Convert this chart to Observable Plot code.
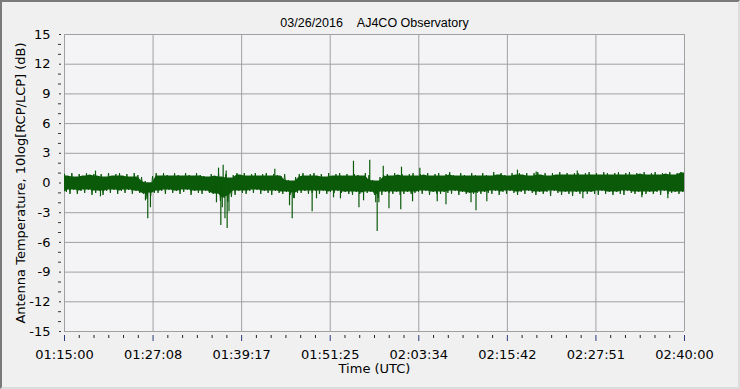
<!DOCTYPE html>
<html><head><meta charset="utf-8">
<script src="https://cdn.jsdelivr.net/npm/d3@7"></script>
<script src="https://cdn.jsdelivr.net/npm/@observablehq/plot@0.6"></script>
<style>
html,body{margin:0;padding:0;background:#f0f0f0;}
#wrap{position:relative;width:740px;height:389px;overflow:hidden;background:#f0f0f0;}
#border{position:absolute;left:0;top:0;width:740px;height:389px;box-sizing:border-box;border-top:2px solid #7a7a7a;border-left:2px solid #7a7a7a;border-right:2px solid #dcdcdc;border-bottom:2px solid #dcdcdc;pointer-events:none;}
#wrap svg{position:absolute;left:0;top:0;}
</style></head><body><div id="wrap"><div id="border"></div></div>
<script>
const chartTitle = "03/26/2016\u00a0\u00a0\u00a0\u00a0AJ4CO Observatory";
const yTitle = "Antenna Temperature, 10log[RCP/LCP] (dB)";
const xTitle = "Time (UTC)";
const xTicks = [0, 728.6, 1457.1, 2185.7, 2914.3, 3642.9, 4371.4, 5100];
const xTickLabels = ["01:15:00","01:27:08","01:39:17","01:51:25","02:03:34","02:15:42","02:27:51","02:40:00"];
const yTicks = [15, 12, 9, 6, 3, 0, -3, -6, -9, -12, -15];
const yTickLabels = ["15","12","9","6","3","0","-3","-6","-9","-12","-15"];
// upper edge of the noise band, one value per ~30 s bin (dB)
const hi = [
 0.9,0.7,1.0,0.6,0.9,0.7,1.0,0.8,0.9,0.7,
 0.9,0.6,1.0,0.7,0.9,1.0,0.7,0.9,0.6,1.0,
 0.8,0.6,0.2,0.0,0.7,1.0,0.7,1.0,0.8,0.7,
 1.0,0.8,0.7,1.0,0.8,0.7,1.0,0.8,0.7,0.6,
 0.9,0.7,1.0,0.6,0.9,0.5,0.8,1.0,0.8,1.0,
 0.7,0.9,1.0,0.7,0.9,1.0,0.7,0.9,0.8,0.7,
 0.9,0.3,0.2,0.6,0.9,1.0,0.7,0.9,1.0,0.7,
 0.9,0.6,1.0,0.7,0.9,1.0,0.7,0.9,0.7,0.9,
 0.8,0.7,1.0,0.8,0.3,0.2,0.6,0.8,0.9,0.7,
 1.0,0.8,0.9,0.7,0.9,1.0,0.7,0.9,0.8,1.0,
 0.7,0.9,1.0,0.7,0.9,1.1,0.8,0.7,1.0,0.8,
 0.7,1.0,0.8,0.7,1.0,0.8,0.7,1.1,0.8,1.0,
 0.8,0.7,1.0,0.8,1.0,0.8,1.0,0.7,1.0,1.1,
 0.8,1.0,0.7,1.0,0.8,1.1,0.8,1.0,0.8,1.0,
 1.0,0.8,1.0,1.1,0.8,1.0,0.8,1.1,1.0,0.8,
 1.0,1.1,0.8,1.0,1.1,0.8,1.0,0.9,1.1,0.8,
 1.0,1.1,0.8,1.0,0.9,1.1,0.8,1.0,1.1,1.0
];
// lower edge of the noise band, one value per ~30 s bin (dB)
const lo = [
 -0.9,-1.1,-0.7,-1.1,-0.8,-1.0,-0.7,-1.2,-1.0,-0.8,
 -1.2,-0.8,-1.0,-0.7,-1.1,-0.8,-1.0,-0.7,-1.1,-0.8,
 -1.0,-1.1,-1.6,-1.3,-1.0,-1.0,-0.8,-1.1,-0.7,-1.0,
 -0.8,-1.1,-0.9,-0.7,-1.2,-0.8,-1.0,-1.1,-0.8,-1.0,
 -1.1,-1.1,-1.8,-1.5,-1.9,-1.4,-1.2,-0.8,-1.0,-1.1,
 -0.8,-1.0,-0.7,-1.1,-0.8,-1.0,-1.2,-0.8,-1.0,-1.1,
 -0.9,-1.2,-1.5,-1.0,-1.0,-0.8,-1.1,-1.0,-0.8,-1.1,
 -0.8,-1.1,-0.9,-1.0,-0.8,-1.0,-0.9,-1.1,-1.2,-0.9,
 -1.1,-1.1,-1.0,-0.9,-1.2,-1.5,-1.2,-0.9,-1.0,-1.1,
 -0.9,-1.2,-1.1,-0.9,-1.1,-1.0,-0.9,-1.1,-0.8,-1.2,
 -0.9,-1.1,-1.1,-0.9,-1.0,-1.1,-0.8,-1.2,-0.9,-1.1,
 -1.0,-1.1,-1.0,-1.1,-0.9,-1.0,-1.1,-0.8,-1.2,-0.9,
 -1.1,-0.8,-1.0,-1.2,-0.9,-1.1,-0.8,-1.0,-1.2,-0.9,
 -1.1,-0.9,-1.3,-0.8,-1.0,-1.2,-0.9,-1.1,-1.3,-0.9,
 -1.1,-0.9,-1.1,-0.9,-1.1,-1.2,-0.8,-1.1,-0.9,-1.2,
 -0.9,-1.1,-1.2,-0.8,-1.0,-1.1,-0.9,-1.2,-1.1,-0.9,
 -1.1,-0.9,-1.2,-0.8,-1.1,-1.0,-0.9,-1.1,-0.9,-1.1
];
// isolated spikes: time (s after 01:15:00) and value (dB)
const spikeT = [255, 296, 666, 685, 707, 1250, 1267, 1286, 1298, 1305, 1320, 1330, 1338, 1353,
  1730, 1851, 1873, 1890, 2037, 2073, 2213, 2270, 2377, 2422, 2460, 2511, 2560, 2572, 2586,
  2622, 2669, 2766, 2772, 2863, 2923, 3066, 3138, 3344, 3385, 3474, 3726, 3880, 4218, 4264, 4749, 4963];
const spikeV = [1.2, -1.4, -1.8, -3.6, -2.5, -2.0, 1.5, -4.3, -2.5, 1.8, -3.6, 1.2, -4.6, -2.9,
  1.4, -2.3, -3.6, -1.6, -2.9, -1.6, -1.5, -1.6, 2.2, -2.5, -1.8, 2.3, -2.0, -4.9, -2.0,
  1.7, -2.6, -2.7, 1.6, -1.9, 1.5, -1.9, -2.2, -2.0, -2.8, -1.9, 1.3, 1.1, 1.2, -1.6, -1.5, -1.6];

const step = 5100 / (hi.length - 1);
// solid core of the band: neighbourhood min of upper edge / max of lower edge
const band = hi.map((h, i) => ({
  t: i * step,
  top: d3.min(hi.slice(Math.max(0, i - 1), i + 2)),
  bot: d3.max(lo.slice(Math.max(0, i - 1), i + 2))
}));
// ragged edge: alternate upper and lower edge values
const zig = [];
hi.forEach((h, i) => {
  zig.push({t: i * step, v: h});
  zig.push({t: i * step + step / 2, v: lo[i]});
});
const spikes = spikeT.map((t, i) => ({t, v: spikeV[i]}));
const yMinor = d3.range(-15, 16, 1).filter(d => d % 3 !== 0);
const xMinor = d3.range(0, 43).map(i => i * 5100 / 42).filter((d, i) => i % 6 !== 0);
const green = "#0a5a0a";

const chart = Plot.plot({
  width: 740, height: 389,
  marginLeft: 64, marginRight: 56, marginTop: 34, marginBottom: 58,
  style: {background: "transparent", fontFamily: "DejaVu Sans", fontSize: "13px", color: "#000", overflow: "visible"},
  x: {domain: [0, 5100], label: null},
  y: {domain: [-15, 15], label: null},
  marks: [
    Plot.frame({fill: "#f4f4f7", stroke: null}),
    Plot.gridY(yTicks, {stroke: "#a0a0a0", strokeOpacity: 1}),
    Plot.gridX(xTicks, {stroke: "#a0a0a0", strokeOpacity: 1}),
    Plot.areaY(band, {x: "t", y1: "bot", y2: "top", fill: green, fillOpacity: 1, clip: true}),
    Plot.line(zig, {x: "t", y: "v", stroke: green, strokeWidth: 1, clip: true}),
    Plot.ruleX(spikes, {x: "t", y1: 0, y2: "v", stroke: green, strokeWidth: 1.2}),
    Plot.axisY(yMinor, {tickSize: 3, dx: -3, tickFormat: () => "", stroke: "#333", label: null}),
    Plot.axisY(yTicks, {tickSize: 2, dx: -3, tickPadding: 9, tickFormat: d => yTickLabels[yTicks.indexOf(d)], stroke: "#333", label: null}),
    Plot.axisX(xMinor, {tickSize: 3, dy: 4, tickFormat: () => "", stroke: "#222", label: null}),
    Plot.axisX(xTicks, {tickSize: 6, dy: 4, tickPadding: 8, tickFormat: d => xTickLabels[xTicks.indexOf(d)], stroke: "#2a3a7a", label: null}),
    Plot.text([yTitle], {frameAnchor: "left", rotate: -90, dx: -44, textAnchor: "middle", fontSize: 13}),
    Plot.text([xTitle], {frameAnchor: "bottom", dy: 41, fontSize: 13}),
    Plot.text([chartTitle], {frameAnchor: "top", dy: -16, fontSize: 12.5, fontFamily: "Liberation Sans"})
  ]
});
const wrap = document.getElementById("wrap");
wrap.insertBefore(chart, document.getElementById("border"));
</script></body></html>
